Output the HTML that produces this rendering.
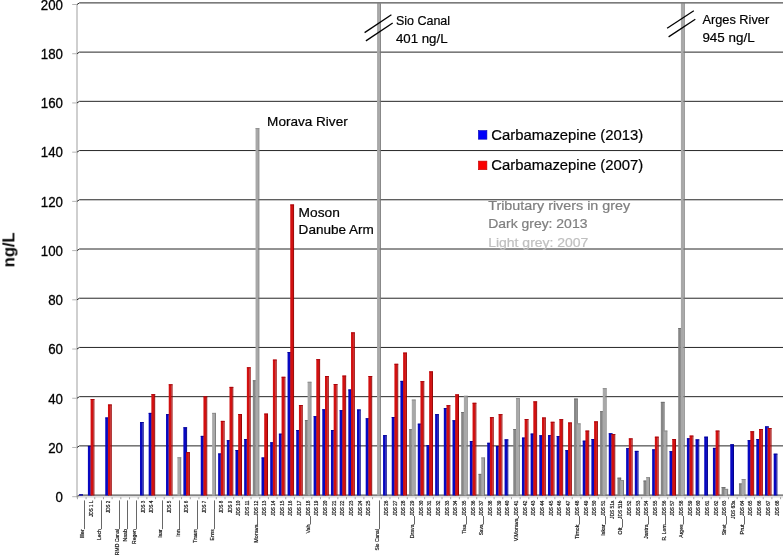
<!DOCTYPE html>
<html><head><meta charset="utf-8"><title>Carbamazepine chart</title>
<style>html,body{margin:0;padding:0;background:#fff;width:783px;height:555px;overflow:hidden;font-family:"Liberation Sans",sans-serif}svg{display:block}</style>
</head><body>
<svg width="783" height="555" viewBox="0 0 783 555" font-family="'Liberation Sans', sans-serif">
<rect width="783" height="555" fill="#fff"/>
<g opacity="0.999">
<rect x="76" y="4.2" width="2" height="493.3" fill="#cfcfcf"/>
<line x1="72.2" y1="496.70" x2="77" y2="496.70" stroke="#b5b5b5" stroke-width="1"/>
<line x1="72.2" y1="447.48" x2="77" y2="447.48" stroke="#b5b5b5" stroke-width="1"/>
<polyline points="77,447.48 79.4,445.88 783,445.88" fill="none" stroke="#262626" stroke-width="1"/>
<line x1="72.2" y1="398.26" x2="77" y2="398.26" stroke="#b5b5b5" stroke-width="1"/>
<polyline points="77,398.26 79.4,396.66 783,396.66" fill="none" stroke="#262626" stroke-width="1"/>
<line x1="72.2" y1="349.04" x2="77" y2="349.04" stroke="#b5b5b5" stroke-width="1"/>
<polyline points="77,349.04 79.4,347.44 783,347.44" fill="none" stroke="#262626" stroke-width="1"/>
<line x1="72.2" y1="299.82" x2="77" y2="299.82" stroke="#b5b5b5" stroke-width="1"/>
<polyline points="77,299.82 79.4,298.22 783,298.22" fill="none" stroke="#262626" stroke-width="1"/>
<line x1="72.2" y1="250.60" x2="77" y2="250.60" stroke="#b5b5b5" stroke-width="1"/>
<polyline points="77,250.60 79.4,249.00 783,249.00" fill="none" stroke="#262626" stroke-width="1"/>
<line x1="72.2" y1="201.38" x2="77" y2="201.38" stroke="#b5b5b5" stroke-width="1"/>
<polyline points="77,201.38 79.4,199.78 783,199.78" fill="none" stroke="#262626" stroke-width="1"/>
<line x1="72.2" y1="152.16" x2="77" y2="152.16" stroke="#b5b5b5" stroke-width="1"/>
<polyline points="77,152.16 79.4,150.56 783,150.56" fill="none" stroke="#262626" stroke-width="1"/>
<line x1="72.2" y1="102.94" x2="77" y2="102.94" stroke="#b5b5b5" stroke-width="1"/>
<polyline points="77,102.94 79.4,101.34 783,101.34" fill="none" stroke="#262626" stroke-width="1"/>
<line x1="72.2" y1="53.72" x2="77" y2="53.72" stroke="#b5b5b5" stroke-width="1"/>
<polyline points="77,53.72 79.4,52.12 783,52.12" fill="none" stroke="#262626" stroke-width="1"/>
<line x1="72.2" y1="4.50" x2="77" y2="4.50" stroke="#b5b5b5" stroke-width="1"/>
<polyline points="77,4.50 79.4,2.90 783,2.90" fill="none" stroke="#262626" stroke-width="1"/>
<polyline points="77,496.70 79.4,495.10 783,495.10" fill="none" stroke="#5a5a5a" stroke-width="1.3"/>
<line x1="77" y1="496.9" x2="783" y2="496.9" stroke="#c4c4c4" stroke-width="0.9"/>
<line x1="77.42" y1="497.2" x2="77.42" y2="499.2" stroke="#8a8a8a" stroke-width="0.8"/>
<line x1="86.10" y1="497.2" x2="86.10" y2="499.2" stroke="#8a8a8a" stroke-width="0.8"/>
<line x1="94.78" y1="497.2" x2="94.78" y2="499.2" stroke="#8a8a8a" stroke-width="0.8"/>
<line x1="103.46" y1="497.2" x2="103.46" y2="499.2" stroke="#8a8a8a" stroke-width="0.8"/>
<line x1="112.14" y1="497.2" x2="112.14" y2="499.2" stroke="#8a8a8a" stroke-width="0.8"/>
<line x1="120.82" y1="497.2" x2="120.82" y2="499.2" stroke="#8a8a8a" stroke-width="0.8"/>
<line x1="129.50" y1="497.2" x2="129.50" y2="499.2" stroke="#8a8a8a" stroke-width="0.8"/>
<line x1="138.19" y1="497.2" x2="138.19" y2="499.2" stroke="#8a8a8a" stroke-width="0.8"/>
<line x1="146.87" y1="497.2" x2="146.87" y2="499.2" stroke="#8a8a8a" stroke-width="0.8"/>
<line x1="155.55" y1="497.2" x2="155.55" y2="499.2" stroke="#8a8a8a" stroke-width="0.8"/>
<line x1="164.23" y1="497.2" x2="164.23" y2="499.2" stroke="#8a8a8a" stroke-width="0.8"/>
<line x1="172.91" y1="497.2" x2="172.91" y2="499.2" stroke="#8a8a8a" stroke-width="0.8"/>
<line x1="181.59" y1="497.2" x2="181.59" y2="499.2" stroke="#8a8a8a" stroke-width="0.8"/>
<line x1="190.27" y1="497.2" x2="190.27" y2="499.2" stroke="#8a8a8a" stroke-width="0.8"/>
<line x1="198.95" y1="497.2" x2="198.95" y2="499.2" stroke="#8a8a8a" stroke-width="0.8"/>
<line x1="207.63" y1="497.2" x2="207.63" y2="499.2" stroke="#8a8a8a" stroke-width="0.8"/>
<line x1="216.31" y1="497.2" x2="216.31" y2="499.2" stroke="#8a8a8a" stroke-width="0.8"/>
<line x1="225.00" y1="497.2" x2="225.00" y2="499.2" stroke="#8a8a8a" stroke-width="0.8"/>
<line x1="233.68" y1="497.2" x2="233.68" y2="499.2" stroke="#8a8a8a" stroke-width="0.8"/>
<line x1="242.36" y1="497.2" x2="242.36" y2="499.2" stroke="#8a8a8a" stroke-width="0.8"/>
<line x1="251.04" y1="497.2" x2="251.04" y2="499.2" stroke="#8a8a8a" stroke-width="0.8"/>
<line x1="259.72" y1="497.2" x2="259.72" y2="499.2" stroke="#8a8a8a" stroke-width="0.8"/>
<line x1="268.40" y1="497.2" x2="268.40" y2="499.2" stroke="#8a8a8a" stroke-width="0.8"/>
<line x1="277.08" y1="497.2" x2="277.08" y2="499.2" stroke="#8a8a8a" stroke-width="0.8"/>
<line x1="285.76" y1="497.2" x2="285.76" y2="499.2" stroke="#8a8a8a" stroke-width="0.8"/>
<line x1="294.44" y1="497.2" x2="294.44" y2="499.2" stroke="#8a8a8a" stroke-width="0.8"/>
<line x1="303.12" y1="497.2" x2="303.12" y2="499.2" stroke="#8a8a8a" stroke-width="0.8"/>
<line x1="311.81" y1="497.2" x2="311.81" y2="499.2" stroke="#8a8a8a" stroke-width="0.8"/>
<line x1="320.49" y1="497.2" x2="320.49" y2="499.2" stroke="#8a8a8a" stroke-width="0.8"/>
<line x1="329.17" y1="497.2" x2="329.17" y2="499.2" stroke="#8a8a8a" stroke-width="0.8"/>
<line x1="337.85" y1="497.2" x2="337.85" y2="499.2" stroke="#8a8a8a" stroke-width="0.8"/>
<line x1="346.53" y1="497.2" x2="346.53" y2="499.2" stroke="#8a8a8a" stroke-width="0.8"/>
<line x1="355.21" y1="497.2" x2="355.21" y2="499.2" stroke="#8a8a8a" stroke-width="0.8"/>
<line x1="363.89" y1="497.2" x2="363.89" y2="499.2" stroke="#8a8a8a" stroke-width="0.8"/>
<line x1="372.57" y1="497.2" x2="372.57" y2="499.2" stroke="#8a8a8a" stroke-width="0.8"/>
<line x1="381.25" y1="497.2" x2="381.25" y2="499.2" stroke="#8a8a8a" stroke-width="0.8"/>
<line x1="389.93" y1="497.2" x2="389.93" y2="499.2" stroke="#8a8a8a" stroke-width="0.8"/>
<line x1="398.62" y1="497.2" x2="398.62" y2="499.2" stroke="#8a8a8a" stroke-width="0.8"/>
<line x1="407.30" y1="497.2" x2="407.30" y2="499.2" stroke="#8a8a8a" stroke-width="0.8"/>
<line x1="415.98" y1="497.2" x2="415.98" y2="499.2" stroke="#8a8a8a" stroke-width="0.8"/>
<line x1="424.66" y1="497.2" x2="424.66" y2="499.2" stroke="#8a8a8a" stroke-width="0.8"/>
<line x1="433.34" y1="497.2" x2="433.34" y2="499.2" stroke="#8a8a8a" stroke-width="0.8"/>
<line x1="442.02" y1="497.2" x2="442.02" y2="499.2" stroke="#8a8a8a" stroke-width="0.8"/>
<line x1="450.70" y1="497.2" x2="450.70" y2="499.2" stroke="#8a8a8a" stroke-width="0.8"/>
<line x1="459.38" y1="497.2" x2="459.38" y2="499.2" stroke="#8a8a8a" stroke-width="0.8"/>
<line x1="468.06" y1="497.2" x2="468.06" y2="499.2" stroke="#8a8a8a" stroke-width="0.8"/>
<line x1="476.74" y1="497.2" x2="476.74" y2="499.2" stroke="#8a8a8a" stroke-width="0.8"/>
<line x1="485.43" y1="497.2" x2="485.43" y2="499.2" stroke="#8a8a8a" stroke-width="0.8"/>
<line x1="494.11" y1="497.2" x2="494.11" y2="499.2" stroke="#8a8a8a" stroke-width="0.8"/>
<line x1="502.79" y1="497.2" x2="502.79" y2="499.2" stroke="#8a8a8a" stroke-width="0.8"/>
<line x1="511.47" y1="497.2" x2="511.47" y2="499.2" stroke="#8a8a8a" stroke-width="0.8"/>
<line x1="520.15" y1="497.2" x2="520.15" y2="499.2" stroke="#8a8a8a" stroke-width="0.8"/>
<line x1="528.83" y1="497.2" x2="528.83" y2="499.2" stroke="#8a8a8a" stroke-width="0.8"/>
<line x1="537.51" y1="497.2" x2="537.51" y2="499.2" stroke="#8a8a8a" stroke-width="0.8"/>
<line x1="546.19" y1="497.2" x2="546.19" y2="499.2" stroke="#8a8a8a" stroke-width="0.8"/>
<line x1="554.87" y1="497.2" x2="554.87" y2="499.2" stroke="#8a8a8a" stroke-width="0.8"/>
<line x1="563.55" y1="497.2" x2="563.55" y2="499.2" stroke="#8a8a8a" stroke-width="0.8"/>
<line x1="572.24" y1="497.2" x2="572.24" y2="499.2" stroke="#8a8a8a" stroke-width="0.8"/>
<line x1="580.92" y1="497.2" x2="580.92" y2="499.2" stroke="#8a8a8a" stroke-width="0.8"/>
<line x1="589.60" y1="497.2" x2="589.60" y2="499.2" stroke="#8a8a8a" stroke-width="0.8"/>
<line x1="598.28" y1="497.2" x2="598.28" y2="499.2" stroke="#8a8a8a" stroke-width="0.8"/>
<line x1="606.96" y1="497.2" x2="606.96" y2="499.2" stroke="#8a8a8a" stroke-width="0.8"/>
<line x1="615.64" y1="497.2" x2="615.64" y2="499.2" stroke="#8a8a8a" stroke-width="0.8"/>
<line x1="624.32" y1="497.2" x2="624.32" y2="499.2" stroke="#8a8a8a" stroke-width="0.8"/>
<line x1="633.00" y1="497.2" x2="633.00" y2="499.2" stroke="#8a8a8a" stroke-width="0.8"/>
<line x1="641.68" y1="497.2" x2="641.68" y2="499.2" stroke="#8a8a8a" stroke-width="0.8"/>
<line x1="650.36" y1="497.2" x2="650.36" y2="499.2" stroke="#8a8a8a" stroke-width="0.8"/>
<line x1="659.05" y1="497.2" x2="659.05" y2="499.2" stroke="#8a8a8a" stroke-width="0.8"/>
<line x1="667.73" y1="497.2" x2="667.73" y2="499.2" stroke="#8a8a8a" stroke-width="0.8"/>
<line x1="676.41" y1="497.2" x2="676.41" y2="499.2" stroke="#8a8a8a" stroke-width="0.8"/>
<line x1="685.09" y1="497.2" x2="685.09" y2="499.2" stroke="#8a8a8a" stroke-width="0.8"/>
<line x1="693.77" y1="497.2" x2="693.77" y2="499.2" stroke="#8a8a8a" stroke-width="0.8"/>
<line x1="702.45" y1="497.2" x2="702.45" y2="499.2" stroke="#8a8a8a" stroke-width="0.8"/>
<line x1="711.13" y1="497.2" x2="711.13" y2="499.2" stroke="#8a8a8a" stroke-width="0.8"/>
<line x1="719.81" y1="497.2" x2="719.81" y2="499.2" stroke="#8a8a8a" stroke-width="0.8"/>
<line x1="728.49" y1="497.2" x2="728.49" y2="499.2" stroke="#8a8a8a" stroke-width="0.8"/>
<line x1="737.17" y1="497.2" x2="737.17" y2="499.2" stroke="#8a8a8a" stroke-width="0.8"/>
<line x1="745.86" y1="497.2" x2="745.86" y2="499.2" stroke="#8a8a8a" stroke-width="0.8"/>
<line x1="754.54" y1="497.2" x2="754.54" y2="499.2" stroke="#8a8a8a" stroke-width="0.8"/>
<line x1="763.22" y1="497.2" x2="763.22" y2="499.2" stroke="#8a8a8a" stroke-width="0.8"/>
<line x1="771.90" y1="497.2" x2="771.90" y2="499.2" stroke="#8a8a8a" stroke-width="0.8"/>
<line x1="780.58" y1="497.2" x2="780.58" y2="499.2" stroke="#8a8a8a" stroke-width="0.8"/>
<rect x="79.22" y="494.40" width="2.70" height="1.10" fill="#0808c0"/>
<rect x="81.92" y="494.40" width="1.00" height="1.10" fill="#00008c"/>
<rect x="79.22" y="494.40" width="3.70" height="0.9" fill="#000098"/>
<rect x="87.90" y="445.90" width="2.70" height="49.60" fill="#0808c0"/>
<rect x="90.60" y="445.90" width="1.00" height="49.60" fill="#00008c"/>
<rect x="87.90" y="445.90" width="3.70" height="0.9" fill="#000098"/>
<rect x="90.60" y="399.10" width="2.80" height="96.40" fill="#d21010"/>
<rect x="93.40" y="399.10" width="1.00" height="96.40" fill="#980000"/>
<rect x="90.60" y="399.10" width="3.80" height="0.9" fill="#a80008"/>
<rect x="105.26" y="417.50" width="2.70" height="78.00" fill="#0808c0"/>
<rect x="107.96" y="417.50" width="1.00" height="78.00" fill="#00008c"/>
<rect x="105.26" y="417.50" width="3.70" height="0.9" fill="#000098"/>
<rect x="107.96" y="404.50" width="2.80" height="91.00" fill="#d21010"/>
<rect x="110.76" y="404.50" width="1.00" height="91.00" fill="#980000"/>
<rect x="107.96" y="404.50" width="3.80" height="0.9" fill="#a80008"/>
<rect x="139.99" y="422.10" width="2.70" height="73.40" fill="#0808c0"/>
<rect x="142.69" y="422.10" width="1.00" height="73.40" fill="#00008c"/>
<rect x="139.99" y="422.10" width="3.70" height="0.9" fill="#000098"/>
<rect x="148.67" y="412.90" width="2.70" height="82.60" fill="#0808c0"/>
<rect x="151.37" y="412.90" width="1.00" height="82.60" fill="#00008c"/>
<rect x="148.67" y="412.90" width="3.70" height="0.9" fill="#000098"/>
<rect x="151.37" y="394.20" width="2.80" height="101.30" fill="#d21010"/>
<rect x="154.17" y="394.20" width="1.00" height="101.30" fill="#980000"/>
<rect x="151.37" y="394.20" width="3.80" height="0.9" fill="#a80008"/>
<rect x="166.03" y="414.20" width="2.70" height="81.30" fill="#0808c0"/>
<rect x="168.73" y="414.20" width="1.00" height="81.30" fill="#00008c"/>
<rect x="166.03" y="414.20" width="3.70" height="0.9" fill="#000098"/>
<rect x="168.73" y="384.30" width="2.80" height="111.20" fill="#d21010"/>
<rect x="171.53" y="384.30" width="1.00" height="111.20" fill="#980000"/>
<rect x="168.73" y="384.30" width="3.80" height="0.9" fill="#a80008"/>
<rect x="177.41" y="457.30" width="2.80" height="38.20" fill="#a8a8a8"/>
<rect x="180.21" y="457.30" width="1.00" height="38.20" fill="#777777"/>
<rect x="177.41" y="457.30" width="3.80" height="0.9" fill="#8a8a8a"/>
<rect x="183.39" y="427.30" width="2.70" height="68.20" fill="#0808c0"/>
<rect x="186.09" y="427.30" width="1.00" height="68.20" fill="#00008c"/>
<rect x="183.39" y="427.30" width="3.70" height="0.9" fill="#000098"/>
<rect x="186.09" y="452.20" width="2.80" height="43.30" fill="#d21010"/>
<rect x="188.89" y="452.20" width="1.00" height="43.30" fill="#980000"/>
<rect x="186.09" y="452.20" width="3.80" height="0.9" fill="#a80008"/>
<rect x="200.75" y="435.90" width="2.70" height="59.60" fill="#0808c0"/>
<rect x="203.45" y="435.90" width="1.00" height="59.60" fill="#00008c"/>
<rect x="200.75" y="435.90" width="3.70" height="0.9" fill="#000098"/>
<rect x="203.45" y="396.40" width="2.80" height="99.10" fill="#d21010"/>
<rect x="206.25" y="396.40" width="1.00" height="99.10" fill="#980000"/>
<rect x="203.45" y="396.40" width="3.80" height="0.9" fill="#a80008"/>
<rect x="212.13" y="412.90" width="2.80" height="82.60" fill="#a8a8a8"/>
<rect x="214.93" y="412.90" width="1.00" height="82.60" fill="#777777"/>
<rect x="212.13" y="412.90" width="3.80" height="0.9" fill="#8a8a8a"/>
<rect x="218.12" y="453.50" width="2.70" height="42.00" fill="#0808c0"/>
<rect x="220.81" y="453.50" width="1.00" height="42.00" fill="#00008c"/>
<rect x="218.12" y="453.50" width="3.70" height="0.9" fill="#000098"/>
<rect x="220.81" y="420.90" width="2.80" height="74.60" fill="#d21010"/>
<rect x="223.62" y="420.90" width="1.00" height="74.60" fill="#980000"/>
<rect x="220.81" y="420.90" width="3.80" height="0.9" fill="#a80008"/>
<rect x="226.80" y="440.20" width="2.70" height="55.30" fill="#0808c0"/>
<rect x="229.50" y="440.20" width="1.00" height="55.30" fill="#00008c"/>
<rect x="226.80" y="440.20" width="3.70" height="0.9" fill="#000098"/>
<rect x="229.50" y="386.90" width="2.80" height="108.60" fill="#d21010"/>
<rect x="232.30" y="386.90" width="1.00" height="108.60" fill="#980000"/>
<rect x="229.50" y="386.90" width="3.80" height="0.9" fill="#a80008"/>
<rect x="235.48" y="450.00" width="2.70" height="45.50" fill="#0808c0"/>
<rect x="238.18" y="450.00" width="1.00" height="45.50" fill="#00008c"/>
<rect x="235.48" y="450.00" width="3.70" height="0.9" fill="#000098"/>
<rect x="238.18" y="414.00" width="2.80" height="81.50" fill="#d21010"/>
<rect x="240.98" y="414.00" width="1.00" height="81.50" fill="#980000"/>
<rect x="238.18" y="414.00" width="3.80" height="0.9" fill="#a80008"/>
<rect x="244.16" y="439.00" width="2.70" height="56.50" fill="#0808c0"/>
<rect x="246.86" y="439.00" width="1.00" height="56.50" fill="#00008c"/>
<rect x="244.16" y="439.00" width="3.70" height="0.9" fill="#000098"/>
<rect x="246.86" y="367.30" width="2.80" height="128.20" fill="#d21010"/>
<rect x="249.66" y="367.30" width="1.00" height="128.20" fill="#980000"/>
<rect x="246.86" y="367.30" width="3.80" height="0.9" fill="#a80008"/>
<rect x="252.84" y="380.30" width="2.70" height="115.20" fill="#868686"/>
<rect x="255.54" y="380.30" width="1.00" height="115.20" fill="#616161"/>
<rect x="252.84" y="380.30" width="3.70" height="0.9" fill="#6e6e6e"/>
<rect x="255.54" y="128.20" width="2.80" height="367.30" fill="#a8a8a8"/>
<rect x="258.34" y="128.20" width="1.00" height="367.30" fill="#777777"/>
<rect x="255.54" y="128.20" width="3.80" height="0.9" fill="#8a8a8a"/>
<rect x="261.52" y="457.50" width="2.70" height="38.00" fill="#0808c0"/>
<rect x="264.22" y="457.50" width="1.00" height="38.00" fill="#00008c"/>
<rect x="261.52" y="457.50" width="3.70" height="0.9" fill="#000098"/>
<rect x="264.22" y="413.60" width="2.80" height="81.90" fill="#d21010"/>
<rect x="267.02" y="413.60" width="1.00" height="81.90" fill="#980000"/>
<rect x="264.22" y="413.60" width="3.80" height="0.9" fill="#a80008"/>
<rect x="270.20" y="442.30" width="2.70" height="53.20" fill="#0808c0"/>
<rect x="272.90" y="442.30" width="1.00" height="53.20" fill="#00008c"/>
<rect x="270.20" y="442.30" width="3.70" height="0.9" fill="#000098"/>
<rect x="272.90" y="359.60" width="2.80" height="135.90" fill="#d21010"/>
<rect x="275.70" y="359.60" width="1.00" height="135.90" fill="#980000"/>
<rect x="272.90" y="359.60" width="3.80" height="0.9" fill="#a80008"/>
<rect x="278.88" y="433.70" width="2.70" height="61.80" fill="#0808c0"/>
<rect x="281.58" y="433.70" width="1.00" height="61.80" fill="#00008c"/>
<rect x="278.88" y="433.70" width="3.70" height="0.9" fill="#000098"/>
<rect x="281.58" y="376.80" width="2.80" height="118.70" fill="#d21010"/>
<rect x="284.38" y="376.80" width="1.00" height="118.70" fill="#980000"/>
<rect x="281.58" y="376.80" width="3.80" height="0.9" fill="#a80008"/>
<rect x="287.56" y="352.00" width="2.70" height="143.50" fill="#0808c0"/>
<rect x="290.26" y="352.00" width="1.00" height="143.50" fill="#00008c"/>
<rect x="287.56" y="352.00" width="3.70" height="0.9" fill="#000098"/>
<rect x="290.26" y="204.50" width="2.80" height="291.00" fill="#d21010"/>
<rect x="293.06" y="204.50" width="1.00" height="291.00" fill="#980000"/>
<rect x="290.26" y="204.50" width="3.80" height="0.9" fill="#a80008"/>
<rect x="296.24" y="430.00" width="2.70" height="65.50" fill="#0808c0"/>
<rect x="298.94" y="430.00" width="1.00" height="65.50" fill="#00008c"/>
<rect x="296.24" y="430.00" width="3.70" height="0.9" fill="#000098"/>
<rect x="298.94" y="405.10" width="2.80" height="90.40" fill="#d21010"/>
<rect x="301.74" y="405.10" width="1.00" height="90.40" fill="#980000"/>
<rect x="298.94" y="405.10" width="3.80" height="0.9" fill="#a80008"/>
<rect x="304.93" y="420.00" width="2.70" height="75.50" fill="#868686"/>
<rect x="307.62" y="420.00" width="1.00" height="75.50" fill="#616161"/>
<rect x="304.93" y="420.00" width="3.70" height="0.9" fill="#6e6e6e"/>
<rect x="307.62" y="381.80" width="2.80" height="113.70" fill="#a8a8a8"/>
<rect x="310.43" y="381.80" width="1.00" height="113.70" fill="#777777"/>
<rect x="307.62" y="381.80" width="3.80" height="0.9" fill="#8a8a8a"/>
<rect x="313.61" y="416.20" width="2.70" height="79.30" fill="#0808c0"/>
<rect x="316.31" y="416.20" width="1.00" height="79.30" fill="#00008c"/>
<rect x="313.61" y="416.20" width="3.70" height="0.9" fill="#000098"/>
<rect x="316.31" y="359.20" width="2.80" height="136.30" fill="#d21010"/>
<rect x="319.11" y="359.20" width="1.00" height="136.30" fill="#980000"/>
<rect x="316.31" y="359.20" width="3.80" height="0.9" fill="#a80008"/>
<rect x="322.29" y="409.30" width="2.70" height="86.20" fill="#0808c0"/>
<rect x="324.99" y="409.30" width="1.00" height="86.20" fill="#00008c"/>
<rect x="322.29" y="409.30" width="3.70" height="0.9" fill="#000098"/>
<rect x="324.99" y="376.00" width="2.80" height="119.50" fill="#d21010"/>
<rect x="327.79" y="376.00" width="1.00" height="119.50" fill="#980000"/>
<rect x="324.99" y="376.00" width="3.80" height="0.9" fill="#a80008"/>
<rect x="330.97" y="430.00" width="2.70" height="65.50" fill="#0808c0"/>
<rect x="333.67" y="430.00" width="1.00" height="65.50" fill="#00008c"/>
<rect x="330.97" y="430.00" width="3.70" height="0.9" fill="#000098"/>
<rect x="333.67" y="384.10" width="2.80" height="111.40" fill="#d21010"/>
<rect x="336.47" y="384.10" width="1.00" height="111.40" fill="#980000"/>
<rect x="333.67" y="384.10" width="3.80" height="0.9" fill="#a80008"/>
<rect x="339.65" y="410.20" width="2.70" height="85.30" fill="#0808c0"/>
<rect x="342.35" y="410.20" width="1.00" height="85.30" fill="#00008c"/>
<rect x="339.65" y="410.20" width="3.70" height="0.9" fill="#000098"/>
<rect x="342.35" y="375.60" width="2.80" height="119.90" fill="#d21010"/>
<rect x="345.15" y="375.60" width="1.00" height="119.90" fill="#980000"/>
<rect x="342.35" y="375.60" width="3.80" height="0.9" fill="#a80008"/>
<rect x="348.33" y="389.50" width="2.70" height="106.00" fill="#0808c0"/>
<rect x="351.03" y="389.50" width="1.00" height="106.00" fill="#00008c"/>
<rect x="348.33" y="389.50" width="3.70" height="0.9" fill="#000098"/>
<rect x="351.03" y="332.40" width="2.80" height="163.10" fill="#d21010"/>
<rect x="353.83" y="332.40" width="1.00" height="163.10" fill="#980000"/>
<rect x="351.03" y="332.40" width="3.80" height="0.9" fill="#a80008"/>
<rect x="357.01" y="409.50" width="2.70" height="86.00" fill="#0808c0"/>
<rect x="359.71" y="409.50" width="1.00" height="86.00" fill="#00008c"/>
<rect x="357.01" y="409.50" width="3.70" height="0.9" fill="#000098"/>
<rect x="365.69" y="418.30" width="2.70" height="77.20" fill="#0808c0"/>
<rect x="368.39" y="418.30" width="1.00" height="77.20" fill="#00008c"/>
<rect x="365.69" y="418.30" width="3.70" height="0.9" fill="#000098"/>
<rect x="368.39" y="376.00" width="2.80" height="119.50" fill="#d21010"/>
<rect x="371.19" y="376.00" width="1.00" height="119.50" fill="#980000"/>
<rect x="368.39" y="376.00" width="3.80" height="0.9" fill="#a80008"/>
<rect x="377.07" y="3.00" width="2.80" height="492.50" fill="#a8a8a8"/>
<rect x="379.87" y="3.00" width="1.00" height="492.50" fill="#777777"/>
<rect x="377.07" y="3.00" width="3.80" height="0.9" fill="#8a8a8a"/>
<rect x="383.05" y="435.20" width="2.70" height="60.30" fill="#0808c0"/>
<rect x="385.75" y="435.20" width="1.00" height="60.30" fill="#00008c"/>
<rect x="383.05" y="435.20" width="3.70" height="0.9" fill="#000098"/>
<rect x="391.73" y="417.00" width="2.70" height="78.50" fill="#0808c0"/>
<rect x="394.43" y="417.00" width="1.00" height="78.50" fill="#00008c"/>
<rect x="391.73" y="417.00" width="3.70" height="0.9" fill="#000098"/>
<rect x="394.43" y="363.80" width="2.80" height="131.70" fill="#d21010"/>
<rect x="397.23" y="363.80" width="1.00" height="131.70" fill="#980000"/>
<rect x="394.43" y="363.80" width="3.80" height="0.9" fill="#a80008"/>
<rect x="400.42" y="380.90" width="2.70" height="114.60" fill="#0808c0"/>
<rect x="403.12" y="380.90" width="1.00" height="114.60" fill="#00008c"/>
<rect x="400.42" y="380.90" width="3.70" height="0.9" fill="#000098"/>
<rect x="403.12" y="352.60" width="2.80" height="142.90" fill="#d21010"/>
<rect x="405.92" y="352.60" width="1.00" height="142.90" fill="#980000"/>
<rect x="403.12" y="352.60" width="3.80" height="0.9" fill="#a80008"/>
<rect x="409.10" y="429.20" width="2.70" height="66.30" fill="#868686"/>
<rect x="411.80" y="429.20" width="1.00" height="66.30" fill="#616161"/>
<rect x="409.10" y="429.20" width="3.70" height="0.9" fill="#6e6e6e"/>
<rect x="411.80" y="399.60" width="2.80" height="95.90" fill="#a8a8a8"/>
<rect x="414.60" y="399.60" width="1.00" height="95.90" fill="#777777"/>
<rect x="411.80" y="399.60" width="3.80" height="0.9" fill="#8a8a8a"/>
<rect x="417.78" y="423.70" width="2.70" height="71.80" fill="#0808c0"/>
<rect x="420.48" y="423.70" width="1.00" height="71.80" fill="#00008c"/>
<rect x="417.78" y="423.70" width="3.70" height="0.9" fill="#000098"/>
<rect x="420.48" y="381.20" width="2.80" height="114.30" fill="#d21010"/>
<rect x="423.28" y="381.20" width="1.00" height="114.30" fill="#980000"/>
<rect x="420.48" y="381.20" width="3.80" height="0.9" fill="#a80008"/>
<rect x="426.46" y="445.20" width="2.70" height="50.30" fill="#0808c0"/>
<rect x="429.16" y="445.20" width="1.00" height="50.30" fill="#00008c"/>
<rect x="426.46" y="445.20" width="3.70" height="0.9" fill="#000098"/>
<rect x="429.16" y="371.40" width="2.80" height="124.10" fill="#d21010"/>
<rect x="431.96" y="371.40" width="1.00" height="124.10" fill="#980000"/>
<rect x="429.16" y="371.40" width="3.80" height="0.9" fill="#a80008"/>
<rect x="435.14" y="414.20" width="2.70" height="81.30" fill="#0808c0"/>
<rect x="437.84" y="414.20" width="1.00" height="81.30" fill="#00008c"/>
<rect x="435.14" y="414.20" width="3.70" height="0.9" fill="#000098"/>
<rect x="443.82" y="408.10" width="2.70" height="87.40" fill="#0808c0"/>
<rect x="446.52" y="408.10" width="1.00" height="87.40" fill="#00008c"/>
<rect x="443.82" y="408.10" width="3.70" height="0.9" fill="#000098"/>
<rect x="446.52" y="405.20" width="2.80" height="90.30" fill="#d21010"/>
<rect x="449.32" y="405.20" width="1.00" height="90.30" fill="#980000"/>
<rect x="446.52" y="405.20" width="3.80" height="0.9" fill="#a80008"/>
<rect x="452.50" y="420.30" width="2.70" height="75.20" fill="#0808c0"/>
<rect x="455.20" y="420.30" width="1.00" height="75.20" fill="#00008c"/>
<rect x="452.50" y="420.30" width="3.70" height="0.9" fill="#000098"/>
<rect x="455.20" y="394.40" width="2.80" height="101.10" fill="#d21010"/>
<rect x="458.00" y="394.40" width="1.00" height="101.10" fill="#980000"/>
<rect x="455.20" y="394.40" width="3.80" height="0.9" fill="#a80008"/>
<rect x="461.18" y="412.00" width="2.70" height="83.50" fill="#868686"/>
<rect x="463.88" y="412.00" width="1.00" height="83.50" fill="#616161"/>
<rect x="461.18" y="412.00" width="3.70" height="0.9" fill="#6e6e6e"/>
<rect x="463.88" y="395.80" width="2.80" height="99.70" fill="#a8a8a8"/>
<rect x="466.68" y="395.80" width="1.00" height="99.70" fill="#777777"/>
<rect x="463.88" y="395.80" width="3.80" height="0.9" fill="#8a8a8a"/>
<rect x="469.86" y="441.00" width="2.70" height="54.50" fill="#0808c0"/>
<rect x="472.56" y="441.00" width="1.00" height="54.50" fill="#00008c"/>
<rect x="469.86" y="441.00" width="3.70" height="0.9" fill="#000098"/>
<rect x="472.56" y="402.80" width="2.80" height="92.70" fill="#d21010"/>
<rect x="475.36" y="402.80" width="1.00" height="92.70" fill="#980000"/>
<rect x="472.56" y="402.80" width="3.80" height="0.9" fill="#a80008"/>
<rect x="478.54" y="473.90" width="2.70" height="21.60" fill="#868686"/>
<rect x="481.24" y="473.90" width="1.00" height="21.60" fill="#616161"/>
<rect x="478.54" y="473.90" width="3.70" height="0.9" fill="#6e6e6e"/>
<rect x="481.24" y="457.50" width="2.80" height="38.00" fill="#a8a8a8"/>
<rect x="484.04" y="457.50" width="1.00" height="38.00" fill="#777777"/>
<rect x="481.24" y="457.50" width="3.80" height="0.9" fill="#8a8a8a"/>
<rect x="487.23" y="442.80" width="2.70" height="52.70" fill="#0808c0"/>
<rect x="489.93" y="442.80" width="1.00" height="52.70" fill="#00008c"/>
<rect x="487.23" y="442.80" width="3.70" height="0.9" fill="#000098"/>
<rect x="489.93" y="417.20" width="2.80" height="78.30" fill="#d21010"/>
<rect x="492.73" y="417.20" width="1.00" height="78.30" fill="#980000"/>
<rect x="489.93" y="417.20" width="3.80" height="0.9" fill="#a80008"/>
<rect x="495.91" y="446.00" width="2.70" height="49.50" fill="#0808c0"/>
<rect x="498.61" y="446.00" width="1.00" height="49.50" fill="#00008c"/>
<rect x="495.91" y="446.00" width="3.70" height="0.9" fill="#000098"/>
<rect x="498.61" y="414.20" width="2.80" height="81.30" fill="#d21010"/>
<rect x="501.41" y="414.20" width="1.00" height="81.30" fill="#980000"/>
<rect x="498.61" y="414.20" width="3.80" height="0.9" fill="#a80008"/>
<rect x="504.59" y="439.40" width="2.70" height="56.10" fill="#0808c0"/>
<rect x="507.29" y="439.40" width="1.00" height="56.10" fill="#00008c"/>
<rect x="504.59" y="439.40" width="3.70" height="0.9" fill="#000098"/>
<rect x="513.27" y="429.00" width="2.70" height="66.50" fill="#868686"/>
<rect x="515.97" y="429.00" width="1.00" height="66.50" fill="#616161"/>
<rect x="513.27" y="429.00" width="3.70" height="0.9" fill="#6e6e6e"/>
<rect x="515.97" y="398.20" width="2.80" height="97.30" fill="#a8a8a8"/>
<rect x="518.77" y="398.20" width="1.00" height="97.30" fill="#777777"/>
<rect x="515.97" y="398.20" width="3.80" height="0.9" fill="#8a8a8a"/>
<rect x="521.95" y="437.60" width="2.70" height="57.90" fill="#0808c0"/>
<rect x="524.65" y="437.60" width="1.00" height="57.90" fill="#00008c"/>
<rect x="521.95" y="437.60" width="3.70" height="0.9" fill="#000098"/>
<rect x="524.65" y="419.10" width="2.80" height="76.40" fill="#d21010"/>
<rect x="527.45" y="419.10" width="1.00" height="76.40" fill="#980000"/>
<rect x="524.65" y="419.10" width="3.80" height="0.9" fill="#a80008"/>
<rect x="530.63" y="433.60" width="2.70" height="61.90" fill="#0808c0"/>
<rect x="533.33" y="433.60" width="1.00" height="61.90" fill="#00008c"/>
<rect x="530.63" y="433.60" width="3.70" height="0.9" fill="#000098"/>
<rect x="533.33" y="401.40" width="2.80" height="94.10" fill="#d21010"/>
<rect x="536.13" y="401.40" width="1.00" height="94.10" fill="#980000"/>
<rect x="533.33" y="401.40" width="3.80" height="0.9" fill="#a80008"/>
<rect x="539.31" y="435.30" width="2.70" height="60.20" fill="#0808c0"/>
<rect x="542.01" y="435.30" width="1.00" height="60.20" fill="#00008c"/>
<rect x="539.31" y="435.30" width="3.70" height="0.9" fill="#000098"/>
<rect x="542.01" y="417.50" width="2.80" height="78.00" fill="#d21010"/>
<rect x="544.81" y="417.50" width="1.00" height="78.00" fill="#980000"/>
<rect x="542.01" y="417.50" width="3.80" height="0.9" fill="#a80008"/>
<rect x="547.99" y="435.20" width="2.70" height="60.30" fill="#0808c0"/>
<rect x="550.69" y="435.20" width="1.00" height="60.30" fill="#00008c"/>
<rect x="547.99" y="435.20" width="3.70" height="0.9" fill="#000098"/>
<rect x="550.69" y="421.80" width="2.80" height="73.70" fill="#d21010"/>
<rect x="553.49" y="421.80" width="1.00" height="73.70" fill="#980000"/>
<rect x="550.69" y="421.80" width="3.80" height="0.9" fill="#a80008"/>
<rect x="556.67" y="436.10" width="2.70" height="59.40" fill="#0808c0"/>
<rect x="559.37" y="436.10" width="1.00" height="59.40" fill="#00008c"/>
<rect x="556.67" y="436.10" width="3.70" height="0.9" fill="#000098"/>
<rect x="559.37" y="419.20" width="2.80" height="76.30" fill="#d21010"/>
<rect x="562.17" y="419.20" width="1.00" height="76.30" fill="#980000"/>
<rect x="559.37" y="419.20" width="3.80" height="0.9" fill="#a80008"/>
<rect x="565.35" y="450.20" width="2.70" height="45.30" fill="#0808c0"/>
<rect x="568.05" y="450.20" width="1.00" height="45.30" fill="#00008c"/>
<rect x="565.35" y="450.20" width="3.70" height="0.9" fill="#000098"/>
<rect x="568.05" y="422.50" width="2.80" height="73.00" fill="#d21010"/>
<rect x="570.85" y="422.50" width="1.00" height="73.00" fill="#980000"/>
<rect x="568.05" y="422.50" width="3.80" height="0.9" fill="#a80008"/>
<rect x="574.04" y="398.60" width="2.70" height="96.90" fill="#868686"/>
<rect x="576.74" y="398.60" width="1.00" height="96.90" fill="#616161"/>
<rect x="574.04" y="398.60" width="3.70" height="0.9" fill="#6e6e6e"/>
<rect x="576.74" y="423.40" width="2.80" height="72.10" fill="#a8a8a8"/>
<rect x="579.54" y="423.40" width="1.00" height="72.10" fill="#777777"/>
<rect x="576.74" y="423.40" width="3.80" height="0.9" fill="#8a8a8a"/>
<rect x="582.72" y="440.70" width="2.70" height="54.80" fill="#0808c0"/>
<rect x="585.42" y="440.70" width="1.00" height="54.80" fill="#00008c"/>
<rect x="582.72" y="440.70" width="3.70" height="0.9" fill="#000098"/>
<rect x="585.42" y="430.60" width="2.80" height="64.90" fill="#d21010"/>
<rect x="588.22" y="430.60" width="1.00" height="64.90" fill="#980000"/>
<rect x="585.42" y="430.60" width="3.80" height="0.9" fill="#a80008"/>
<rect x="591.40" y="439.10" width="2.70" height="56.40" fill="#0808c0"/>
<rect x="594.10" y="439.10" width="1.00" height="56.40" fill="#00008c"/>
<rect x="591.40" y="439.10" width="3.70" height="0.9" fill="#000098"/>
<rect x="594.10" y="421.40" width="2.80" height="74.10" fill="#d21010"/>
<rect x="596.90" y="421.40" width="1.00" height="74.10" fill="#980000"/>
<rect x="594.10" y="421.40" width="3.80" height="0.9" fill="#a80008"/>
<rect x="600.08" y="411.20" width="2.70" height="84.30" fill="#868686"/>
<rect x="602.78" y="411.20" width="1.00" height="84.30" fill="#616161"/>
<rect x="600.08" y="411.20" width="3.70" height="0.9" fill="#6e6e6e"/>
<rect x="602.78" y="388.20" width="2.80" height="107.30" fill="#a8a8a8"/>
<rect x="605.58" y="388.20" width="1.00" height="107.30" fill="#777777"/>
<rect x="602.78" y="388.20" width="3.80" height="0.9" fill="#8a8a8a"/>
<rect x="608.76" y="433.30" width="2.70" height="62.20" fill="#0808c0"/>
<rect x="611.46" y="433.30" width="1.00" height="62.20" fill="#00008c"/>
<rect x="608.76" y="433.30" width="3.70" height="0.9" fill="#000098"/>
<rect x="611.46" y="434.10" width="2.80" height="61.40" fill="#d21010"/>
<rect x="614.26" y="434.10" width="1.00" height="61.40" fill="#980000"/>
<rect x="611.46" y="434.10" width="3.80" height="0.9" fill="#a80008"/>
<rect x="617.44" y="477.70" width="2.70" height="17.80" fill="#868686"/>
<rect x="620.14" y="477.70" width="1.00" height="17.80" fill="#616161"/>
<rect x="617.44" y="477.70" width="3.70" height="0.9" fill="#6e6e6e"/>
<rect x="620.14" y="480.00" width="2.80" height="15.50" fill="#a8a8a8"/>
<rect x="622.94" y="480.00" width="1.00" height="15.50" fill="#777777"/>
<rect x="620.14" y="480.00" width="3.80" height="0.9" fill="#8a8a8a"/>
<rect x="626.12" y="448.20" width="2.70" height="47.30" fill="#0808c0"/>
<rect x="628.82" y="448.20" width="1.00" height="47.30" fill="#00008c"/>
<rect x="626.12" y="448.20" width="3.70" height="0.9" fill="#000098"/>
<rect x="628.82" y="438.40" width="2.80" height="57.10" fill="#d21010"/>
<rect x="631.62" y="438.40" width="1.00" height="57.10" fill="#980000"/>
<rect x="628.82" y="438.40" width="3.80" height="0.9" fill="#a80008"/>
<rect x="634.80" y="450.90" width="2.70" height="44.60" fill="#0808c0"/>
<rect x="637.50" y="450.90" width="1.00" height="44.60" fill="#00008c"/>
<rect x="634.80" y="450.90" width="3.70" height="0.9" fill="#000098"/>
<rect x="643.48" y="480.60" width="2.70" height="14.90" fill="#868686"/>
<rect x="646.18" y="480.60" width="1.00" height="14.90" fill="#616161"/>
<rect x="643.48" y="480.60" width="3.70" height="0.9" fill="#6e6e6e"/>
<rect x="646.18" y="477.20" width="2.80" height="18.30" fill="#a8a8a8"/>
<rect x="648.98" y="477.20" width="1.00" height="18.30" fill="#777777"/>
<rect x="646.18" y="477.20" width="3.80" height="0.9" fill="#8a8a8a"/>
<rect x="652.16" y="449.40" width="2.70" height="46.10" fill="#0808c0"/>
<rect x="654.86" y="449.40" width="1.00" height="46.10" fill="#00008c"/>
<rect x="652.16" y="449.40" width="3.70" height="0.9" fill="#000098"/>
<rect x="654.86" y="436.70" width="2.80" height="58.80" fill="#d21010"/>
<rect x="657.66" y="436.70" width="1.00" height="58.80" fill="#980000"/>
<rect x="654.86" y="436.70" width="3.80" height="0.9" fill="#a80008"/>
<rect x="660.85" y="401.90" width="2.70" height="93.60" fill="#868686"/>
<rect x="663.55" y="401.90" width="1.00" height="93.60" fill="#616161"/>
<rect x="660.85" y="401.90" width="3.70" height="0.9" fill="#6e6e6e"/>
<rect x="663.55" y="430.60" width="2.80" height="64.90" fill="#a8a8a8"/>
<rect x="666.35" y="430.60" width="1.00" height="64.90" fill="#777777"/>
<rect x="663.55" y="430.60" width="3.80" height="0.9" fill="#8a8a8a"/>
<rect x="669.53" y="451.20" width="2.70" height="44.30" fill="#0808c0"/>
<rect x="672.23" y="451.20" width="1.00" height="44.30" fill="#00008c"/>
<rect x="669.53" y="451.20" width="3.70" height="0.9" fill="#000098"/>
<rect x="672.23" y="439.10" width="2.80" height="56.40" fill="#d21010"/>
<rect x="675.03" y="439.10" width="1.00" height="56.40" fill="#980000"/>
<rect x="672.23" y="439.10" width="3.80" height="0.9" fill="#a80008"/>
<rect x="678.21" y="328.10" width="2.70" height="167.40" fill="#868686"/>
<rect x="680.91" y="328.10" width="1.00" height="167.40" fill="#616161"/>
<rect x="678.21" y="328.10" width="3.70" height="0.9" fill="#6e6e6e"/>
<rect x="680.91" y="3.00" width="2.80" height="492.50" fill="#a8a8a8"/>
<rect x="683.71" y="3.00" width="1.00" height="492.50" fill="#777777"/>
<rect x="680.91" y="3.00" width="3.80" height="0.9" fill="#8a8a8a"/>
<rect x="686.89" y="438.30" width="2.70" height="57.20" fill="#0808c0"/>
<rect x="689.59" y="438.30" width="1.00" height="57.20" fill="#00008c"/>
<rect x="686.89" y="438.30" width="3.70" height="0.9" fill="#000098"/>
<rect x="689.59" y="435.60" width="2.80" height="59.90" fill="#d21010"/>
<rect x="692.39" y="435.60" width="1.00" height="59.90" fill="#980000"/>
<rect x="689.59" y="435.60" width="3.80" height="0.9" fill="#a80008"/>
<rect x="695.57" y="439.40" width="2.70" height="56.10" fill="#0808c0"/>
<rect x="698.27" y="439.40" width="1.00" height="56.10" fill="#00008c"/>
<rect x="695.57" y="439.40" width="3.70" height="0.9" fill="#000098"/>
<rect x="704.25" y="436.70" width="2.70" height="58.80" fill="#0808c0"/>
<rect x="706.95" y="436.70" width="1.00" height="58.80" fill="#00008c"/>
<rect x="704.25" y="436.70" width="3.70" height="0.9" fill="#000098"/>
<rect x="712.93" y="447.90" width="2.70" height="47.60" fill="#0808c0"/>
<rect x="715.63" y="447.90" width="1.00" height="47.60" fill="#00008c"/>
<rect x="712.93" y="447.90" width="3.70" height="0.9" fill="#000098"/>
<rect x="715.63" y="430.60" width="2.80" height="64.90" fill="#d21010"/>
<rect x="718.43" y="430.60" width="1.00" height="64.90" fill="#980000"/>
<rect x="715.63" y="430.60" width="3.80" height="0.9" fill="#a80008"/>
<rect x="721.61" y="487.00" width="2.70" height="8.50" fill="#868686"/>
<rect x="724.31" y="487.00" width="1.00" height="8.50" fill="#616161"/>
<rect x="721.61" y="487.00" width="3.70" height="0.9" fill="#6e6e6e"/>
<rect x="724.31" y="488.90" width="2.80" height="6.60" fill="#a8a8a8"/>
<rect x="727.11" y="488.90" width="1.00" height="6.60" fill="#777777"/>
<rect x="724.31" y="488.90" width="3.80" height="0.9" fill="#8a8a8a"/>
<rect x="730.29" y="444.30" width="2.70" height="51.20" fill="#0808c0"/>
<rect x="732.99" y="444.30" width="1.00" height="51.20" fill="#00008c"/>
<rect x="730.29" y="444.30" width="3.70" height="0.9" fill="#000098"/>
<rect x="738.97" y="483.50" width="2.70" height="12.00" fill="#868686"/>
<rect x="741.67" y="483.50" width="1.00" height="12.00" fill="#616161"/>
<rect x="738.97" y="483.50" width="3.70" height="0.9" fill="#6e6e6e"/>
<rect x="741.67" y="479.00" width="2.80" height="16.50" fill="#a8a8a8"/>
<rect x="744.47" y="479.00" width="1.00" height="16.50" fill="#777777"/>
<rect x="741.67" y="479.00" width="3.80" height="0.9" fill="#8a8a8a"/>
<rect x="747.66" y="440.20" width="2.70" height="55.30" fill="#0808c0"/>
<rect x="750.36" y="440.20" width="1.00" height="55.30" fill="#00008c"/>
<rect x="747.66" y="440.20" width="3.70" height="0.9" fill="#000098"/>
<rect x="750.36" y="431.30" width="2.80" height="64.20" fill="#d21010"/>
<rect x="753.16" y="431.30" width="1.00" height="64.20" fill="#980000"/>
<rect x="750.36" y="431.30" width="3.80" height="0.9" fill="#a80008"/>
<rect x="756.34" y="439.10" width="2.70" height="56.40" fill="#0808c0"/>
<rect x="759.04" y="439.10" width="1.00" height="56.40" fill="#00008c"/>
<rect x="756.34" y="439.10" width="3.70" height="0.9" fill="#000098"/>
<rect x="759.04" y="429.00" width="2.80" height="66.50" fill="#d21010"/>
<rect x="761.84" y="429.00" width="1.00" height="66.50" fill="#980000"/>
<rect x="759.04" y="429.00" width="3.80" height="0.9" fill="#a80008"/>
<rect x="765.02" y="426.40" width="2.70" height="69.10" fill="#0808c0"/>
<rect x="767.72" y="426.40" width="1.00" height="69.10" fill="#00008c"/>
<rect x="765.02" y="426.40" width="3.70" height="0.9" fill="#000098"/>
<rect x="767.72" y="428.00" width="2.80" height="67.50" fill="#d21010"/>
<rect x="770.52" y="428.00" width="1.00" height="67.50" fill="#980000"/>
<rect x="767.72" y="428.00" width="3.80" height="0.9" fill="#a80008"/>
<rect x="773.70" y="453.70" width="2.70" height="41.80" fill="#0808c0"/>
<rect x="776.40" y="453.70" width="1.00" height="41.80" fill="#00008c"/>
<rect x="773.70" y="453.70" width="3.70" height="0.9" fill="#000098"/>
<g font-size="5.3" fill="#111" stroke="#111" stroke-width="0.18">
<line x1="84.50" y1="500.40" x2="84.50" y2="529.20" stroke="#404040" stroke-width="0.8"/>
<text transform="translate(84.02,529.20) rotate(-90)" text-anchor="end" textLength="9.03" lengthAdjust="spacingAndGlyphs">Iller</text>
<text transform="translate(92.70,500.60) rotate(-90)" text-anchor="end" textLength="16.08" lengthAdjust="spacingAndGlyphs">JDS 1 L</text>
<line x1="101.50" y1="500.40" x2="101.50" y2="529.20" stroke="#404040" stroke-width="0.8"/>
<text transform="translate(101.38,529.20) rotate(-90)" text-anchor="end" textLength="10.82" lengthAdjust="spacingAndGlyphs">Lech</text>
<text transform="translate(110.06,500.60) rotate(-90)" text-anchor="end" textLength="12.33" lengthAdjust="spacingAndGlyphs">JDS 2</text>
<line x1="119.50" y1="500.40" x2="119.50" y2="529.20" stroke="#404040" stroke-width="0.8"/>
<text transform="translate(118.74,529.20) rotate(-90)" text-anchor="end" textLength="26.01" lengthAdjust="spacingAndGlyphs">RMD Canal</text>
<line x1="127.50" y1="500.40" x2="127.50" y2="529.20" stroke="#404040" stroke-width="0.8"/>
<text transform="translate(127.42,529.20) rotate(-90)" text-anchor="end" textLength="12.35" lengthAdjust="spacingAndGlyphs">Naab</text>
<line x1="136.50" y1="500.40" x2="136.50" y2="529.20" stroke="#404040" stroke-width="0.8"/>
<text transform="translate(136.10,529.20) rotate(-90)" text-anchor="end" textLength="14.70" lengthAdjust="spacingAndGlyphs">Regen</text>
<text transform="translate(144.79,500.60) rotate(-90)" text-anchor="end" textLength="12.33" lengthAdjust="spacingAndGlyphs">JDS 3</text>
<text transform="translate(153.47,500.60) rotate(-90)" text-anchor="end" textLength="12.33" lengthAdjust="spacingAndGlyphs">JDS 4</text>
<line x1="162.50" y1="500.40" x2="162.50" y2="529.20" stroke="#404040" stroke-width="0.8"/>
<text transform="translate(162.15,529.20) rotate(-90)" text-anchor="end" textLength="8.53" lengthAdjust="spacingAndGlyphs">Isar</text>
<text transform="translate(170.83,500.60) rotate(-90)" text-anchor="end" textLength="12.33" lengthAdjust="spacingAndGlyphs">JDS 5</text>
<line x1="179.50" y1="500.40" x2="179.50" y2="529.20" stroke="#404040" stroke-width="0.8"/>
<text transform="translate(179.51,529.20) rotate(-90)" text-anchor="end" textLength="7.55" lengthAdjust="spacingAndGlyphs">Inn</text>
<text transform="translate(188.19,500.60) rotate(-90)" text-anchor="end" textLength="12.33" lengthAdjust="spacingAndGlyphs">JDS 6</text>
<line x1="197.50" y1="500.40" x2="197.50" y2="529.20" stroke="#404040" stroke-width="0.8"/>
<text transform="translate(196.87,529.20) rotate(-90)" text-anchor="end" textLength="13.72" lengthAdjust="spacingAndGlyphs">Traun</text>
<text transform="translate(205.55,500.60) rotate(-90)" text-anchor="end" textLength="12.33" lengthAdjust="spacingAndGlyphs">JDS 7</text>
<line x1="214.50" y1="500.40" x2="214.50" y2="529.20" stroke="#404040" stroke-width="0.8"/>
<text transform="translate(214.23,529.20) rotate(-90)" text-anchor="end" textLength="11.19" lengthAdjust="spacingAndGlyphs">Enns</text>
<text transform="translate(222.91,500.60) rotate(-90)" text-anchor="end" textLength="12.33" lengthAdjust="spacingAndGlyphs">JDS 8</text>
<text transform="translate(231.60,500.60) rotate(-90)" text-anchor="end" textLength="12.33" lengthAdjust="spacingAndGlyphs">JDS 9</text>
<text transform="translate(240.28,500.60) rotate(-90)" text-anchor="end" textLength="15.27" lengthAdjust="spacingAndGlyphs">JDS 10</text>
<text transform="translate(248.96,500.60) rotate(-90)" text-anchor="end" textLength="15.27" lengthAdjust="spacingAndGlyphs">JDS 11</text>
<text transform="translate(257.64,500.60) rotate(-90)" text-anchor="end" textLength="15.27" lengthAdjust="spacingAndGlyphs">JDS 12</text>
<line x1="257.50" y1="516.07" x2="257.50" y2="524.47" stroke="#404040" stroke-width="0.8"/>
<text transform="translate(257.64,524.47) rotate(-90)" text-anchor="end" textLength="18.22" lengthAdjust="spacingAndGlyphs">Morava</text>
<text transform="translate(266.32,500.60) rotate(-90)" text-anchor="end" textLength="15.27" lengthAdjust="spacingAndGlyphs">JDS 13</text>
<text transform="translate(275.00,500.60) rotate(-90)" text-anchor="end" textLength="15.27" lengthAdjust="spacingAndGlyphs">JDS 14</text>
<text transform="translate(283.68,500.60) rotate(-90)" text-anchor="end" textLength="15.27" lengthAdjust="spacingAndGlyphs">JDS 15</text>
<text transform="translate(292.36,500.60) rotate(-90)" text-anchor="end" textLength="15.27" lengthAdjust="spacingAndGlyphs">JDS 16</text>
<text transform="translate(301.04,500.60) rotate(-90)" text-anchor="end" textLength="15.27" lengthAdjust="spacingAndGlyphs">JDS 17</text>
<text transform="translate(309.73,500.60) rotate(-90)" text-anchor="end" textLength="15.27" lengthAdjust="spacingAndGlyphs">JDS 18</text>
<line x1="310.50" y1="516.07" x2="310.50" y2="524.47" stroke="#404040" stroke-width="0.8"/>
<text transform="translate(309.73,524.47) rotate(-90)" text-anchor="end" textLength="9.11" lengthAdjust="spacingAndGlyphs">Vah</text>
<text transform="translate(318.41,500.60) rotate(-90)" text-anchor="end" textLength="15.27" lengthAdjust="spacingAndGlyphs">JDS 19</text>
<text transform="translate(327.09,500.60) rotate(-90)" text-anchor="end" textLength="15.27" lengthAdjust="spacingAndGlyphs">JDS 20</text>
<text transform="translate(335.77,500.60) rotate(-90)" text-anchor="end" textLength="15.27" lengthAdjust="spacingAndGlyphs">JDS 21</text>
<text transform="translate(344.45,500.60) rotate(-90)" text-anchor="end" textLength="15.27" lengthAdjust="spacingAndGlyphs">JDS 22</text>
<text transform="translate(353.13,500.60) rotate(-90)" text-anchor="end" textLength="15.27" lengthAdjust="spacingAndGlyphs">JDS 23</text>
<text transform="translate(361.81,500.60) rotate(-90)" text-anchor="end" textLength="15.27" lengthAdjust="spacingAndGlyphs">JDS 24</text>
<text transform="translate(370.49,500.60) rotate(-90)" text-anchor="end" textLength="15.27" lengthAdjust="spacingAndGlyphs">JDS 25</text>
<line x1="379.50" y1="500.40" x2="379.50" y2="529.20" stroke="#404040" stroke-width="0.8"/>
<text transform="translate(379.17,529.20) rotate(-90)" text-anchor="end" textLength="21.38" lengthAdjust="spacingAndGlyphs">Sio Canal</text>
<text transform="translate(387.85,500.60) rotate(-90)" text-anchor="end" textLength="15.27" lengthAdjust="spacingAndGlyphs">JDS 26</text>
<text transform="translate(396.53,500.60) rotate(-90)" text-anchor="end" textLength="15.27" lengthAdjust="spacingAndGlyphs">JDS 27</text>
<text transform="translate(405.22,500.60) rotate(-90)" text-anchor="end" textLength="15.27" lengthAdjust="spacingAndGlyphs">JDS 28</text>
<text transform="translate(413.90,500.60) rotate(-90)" text-anchor="end" textLength="15.27" lengthAdjust="spacingAndGlyphs">JDS 29</text>
<line x1="414.50" y1="516.07" x2="414.50" y2="524.47" stroke="#404040" stroke-width="0.8"/>
<text transform="translate(413.90,524.47) rotate(-90)" text-anchor="end" textLength="13.77" lengthAdjust="spacingAndGlyphs">Drava</text>
<text transform="translate(422.58,500.60) rotate(-90)" text-anchor="end" textLength="15.27" lengthAdjust="spacingAndGlyphs">JDS 30</text>
<text transform="translate(431.26,500.60) rotate(-90)" text-anchor="end" textLength="15.27" lengthAdjust="spacingAndGlyphs">JDS 31</text>
<text transform="translate(439.94,500.60) rotate(-90)" text-anchor="end" textLength="15.27" lengthAdjust="spacingAndGlyphs">JDS 32</text>
<text transform="translate(448.62,500.60) rotate(-90)" text-anchor="end" textLength="15.27" lengthAdjust="spacingAndGlyphs">JDS 33</text>
<text transform="translate(457.30,500.60) rotate(-90)" text-anchor="end" textLength="15.27" lengthAdjust="spacingAndGlyphs">JDS 34</text>
<text transform="translate(465.98,500.60) rotate(-90)" text-anchor="end" textLength="15.27" lengthAdjust="spacingAndGlyphs">JDS 35</text>
<line x1="466.50" y1="516.07" x2="466.50" y2="524.47" stroke="#404040" stroke-width="0.8"/>
<text transform="translate(465.98,524.47) rotate(-90)" text-anchor="end" textLength="9.20" lengthAdjust="spacingAndGlyphs">Tisa</text>
<text transform="translate(474.66,500.60) rotate(-90)" text-anchor="end" textLength="15.27" lengthAdjust="spacingAndGlyphs">JDS 36</text>
<text transform="translate(483.34,500.60) rotate(-90)" text-anchor="end" textLength="15.27" lengthAdjust="spacingAndGlyphs">JDS 37</text>
<line x1="483.50" y1="516.07" x2="483.50" y2="524.47" stroke="#404040" stroke-width="0.8"/>
<text transform="translate(483.34,524.47) rotate(-90)" text-anchor="end" textLength="10.84" lengthAdjust="spacingAndGlyphs">Sava</text>
<text transform="translate(492.03,500.60) rotate(-90)" text-anchor="end" textLength="15.27" lengthAdjust="spacingAndGlyphs">JDS 38</text>
<text transform="translate(500.71,500.60) rotate(-90)" text-anchor="end" textLength="15.27" lengthAdjust="spacingAndGlyphs">JDS 39</text>
<text transform="translate(509.39,500.60) rotate(-90)" text-anchor="end" textLength="15.27" lengthAdjust="spacingAndGlyphs">JDS 40</text>
<text transform="translate(518.07,500.60) rotate(-90)" text-anchor="end" textLength="15.27" lengthAdjust="spacingAndGlyphs">JDS 41</text>
<line x1="518.50" y1="516.07" x2="518.50" y2="518.37" stroke="#404040" stroke-width="0.8"/>
<text transform="translate(518.07,518.37) rotate(-90)" text-anchor="end" textLength="22.97" lengthAdjust="spacingAndGlyphs">V.Morava</text>
<text transform="translate(526.75,500.60) rotate(-90)" text-anchor="end" textLength="15.27" lengthAdjust="spacingAndGlyphs">JDS 42</text>
<text transform="translate(535.43,500.60) rotate(-90)" text-anchor="end" textLength="15.27" lengthAdjust="spacingAndGlyphs">JDS 43</text>
<text transform="translate(544.11,500.60) rotate(-90)" text-anchor="end" textLength="15.27" lengthAdjust="spacingAndGlyphs">JDS 44</text>
<text transform="translate(552.79,500.60) rotate(-90)" text-anchor="end" textLength="15.27" lengthAdjust="spacingAndGlyphs">JDS 45</text>
<text transform="translate(561.47,500.60) rotate(-90)" text-anchor="end" textLength="15.27" lengthAdjust="spacingAndGlyphs">JDS 46</text>
<text transform="translate(570.15,500.60) rotate(-90)" text-anchor="end" textLength="15.27" lengthAdjust="spacingAndGlyphs">JDS 47</text>
<text transform="translate(578.84,500.60) rotate(-90)" text-anchor="end" textLength="15.27" lengthAdjust="spacingAndGlyphs">JDS 48</text>
<line x1="579.50" y1="516.07" x2="579.50" y2="524.47" stroke="#404040" stroke-width="0.8"/>
<text transform="translate(578.84,524.47) rotate(-90)" text-anchor="end" textLength="14.48" lengthAdjust="spacingAndGlyphs">Timok</text>
<text transform="translate(587.52,500.60) rotate(-90)" text-anchor="end" textLength="15.27" lengthAdjust="spacingAndGlyphs">JDS 49</text>
<text transform="translate(596.20,500.60) rotate(-90)" text-anchor="end" textLength="15.27" lengthAdjust="spacingAndGlyphs">JDS 50</text>
<text transform="translate(604.88,500.60) rotate(-90)" text-anchor="end" textLength="15.27" lengthAdjust="spacingAndGlyphs">JDS 51</text>
<line x1="605.50" y1="516.07" x2="605.50" y2="524.47" stroke="#404040" stroke-width="0.8"/>
<text transform="translate(604.88,524.47) rotate(-90)" text-anchor="end" textLength="11.17" lengthAdjust="spacingAndGlyphs">Iskar</text>
<text transform="translate(613.56,500.60) rotate(-90)" text-anchor="end" textLength="18.05" lengthAdjust="spacingAndGlyphs">JDS 51a</text>
<text transform="translate(622.24,500.60) rotate(-90)" text-anchor="end" textLength="18.32" lengthAdjust="spacingAndGlyphs">JDS 51b</text>
<line x1="622.50" y1="519.12" x2="622.50" y2="527.52" stroke="#404040" stroke-width="0.8"/>
<text transform="translate(622.24,527.52) rotate(-90)" text-anchor="end" textLength="7.11" lengthAdjust="spacingAndGlyphs">Olt</text>
<text transform="translate(630.92,500.60) rotate(-90)" text-anchor="end" textLength="15.27" lengthAdjust="spacingAndGlyphs">JDS 52</text>
<text transform="translate(639.60,500.60) rotate(-90)" text-anchor="end" textLength="15.27" lengthAdjust="spacingAndGlyphs">JDS 53</text>
<text transform="translate(648.28,500.60) rotate(-90)" text-anchor="end" textLength="15.27" lengthAdjust="spacingAndGlyphs">JDS 54</text>
<line x1="648.50" y1="516.07" x2="648.50" y2="524.47" stroke="#404040" stroke-width="0.8"/>
<text transform="translate(648.28,524.47) rotate(-90)" text-anchor="end" textLength="14.42" lengthAdjust="spacingAndGlyphs">Jantra</text>
<text transform="translate(656.96,500.60) rotate(-90)" text-anchor="end" textLength="15.27" lengthAdjust="spacingAndGlyphs">JDS 55</text>
<text transform="translate(665.65,500.60) rotate(-90)" text-anchor="end" textLength="15.27" lengthAdjust="spacingAndGlyphs">JDS 56</text>
<line x1="665.50" y1="516.07" x2="665.50" y2="524.47" stroke="#404040" stroke-width="0.8"/>
<text transform="translate(665.65,524.47) rotate(-90)" text-anchor="end" textLength="16.05" lengthAdjust="spacingAndGlyphs">R. Lom</text>
<text transform="translate(674.33,500.60) rotate(-90)" text-anchor="end" textLength="15.27" lengthAdjust="spacingAndGlyphs">JDS 57</text>
<text transform="translate(683.01,500.60) rotate(-90)" text-anchor="end" textLength="15.27" lengthAdjust="spacingAndGlyphs">JDS 58</text>
<line x1="683.50" y1="516.07" x2="683.50" y2="524.47" stroke="#404040" stroke-width="0.8"/>
<text transform="translate(683.01,524.47) rotate(-90)" text-anchor="end" textLength="13.27" lengthAdjust="spacingAndGlyphs">Arges</text>
<text transform="translate(691.69,500.60) rotate(-90)" text-anchor="end" textLength="15.27" lengthAdjust="spacingAndGlyphs">JDS 59</text>
<text transform="translate(700.37,500.60) rotate(-90)" text-anchor="end" textLength="15.27" lengthAdjust="spacingAndGlyphs">JDS 60</text>
<text transform="translate(709.05,500.60) rotate(-90)" text-anchor="end" textLength="15.27" lengthAdjust="spacingAndGlyphs">JDS 61</text>
<text transform="translate(717.73,500.60) rotate(-90)" text-anchor="end" textLength="15.27" lengthAdjust="spacingAndGlyphs">JDS 62</text>
<text transform="translate(726.41,500.60) rotate(-90)" text-anchor="end" textLength="15.27" lengthAdjust="spacingAndGlyphs">JDS 63</text>
<line x1="726.50" y1="516.07" x2="726.50" y2="524.47" stroke="#404040" stroke-width="0.8"/>
<text transform="translate(726.41,524.47) rotate(-90)" text-anchor="end" textLength="10.85" lengthAdjust="spacingAndGlyphs">Siret</text>
<text transform="translate(735.09,500.60) rotate(-90)" text-anchor="end" textLength="18.05" lengthAdjust="spacingAndGlyphs">JDS 63a</text>
<text transform="translate(743.77,500.60) rotate(-90)" text-anchor="end" textLength="15.27" lengthAdjust="spacingAndGlyphs">JDS 64</text>
<line x1="744.50" y1="516.07" x2="744.50" y2="524.47" stroke="#404040" stroke-width="0.8"/>
<text transform="translate(743.77,524.47) rotate(-90)" text-anchor="end" textLength="10.01" lengthAdjust="spacingAndGlyphs">Prut</text>
<text transform="translate(752.46,500.60) rotate(-90)" text-anchor="end" textLength="15.27" lengthAdjust="spacingAndGlyphs">JDS 65</text>
<text transform="translate(761.14,500.60) rotate(-90)" text-anchor="end" textLength="15.27" lengthAdjust="spacingAndGlyphs">JDS 66</text>
<text transform="translate(769.82,500.60) rotate(-90)" text-anchor="end" textLength="15.27" lengthAdjust="spacingAndGlyphs">JDS 67</text>
<text transform="translate(778.50,500.60) rotate(-90)" text-anchor="end" textLength="15.27" lengthAdjust="spacingAndGlyphs">JDS 68</text>
</g>
<g font-size="14" fill="#000" stroke="#000" stroke-width="0.3" text-anchor="end">
<text x="63.0" y="502.20" textLength="7.4" lengthAdjust="spacingAndGlyphs">0</text>
<text x="63.0" y="452.95" textLength="14.8" lengthAdjust="spacingAndGlyphs">20</text>
<text x="63.0" y="403.70" textLength="14.8" lengthAdjust="spacingAndGlyphs">40</text>
<text x="63.0" y="354.45" textLength="14.8" lengthAdjust="spacingAndGlyphs">60</text>
<text x="63.0" y="305.20" textLength="14.8" lengthAdjust="spacingAndGlyphs">80</text>
<text x="63.0" y="255.95" textLength="22.2" lengthAdjust="spacingAndGlyphs">100</text>
<text x="63.0" y="206.70" textLength="22.2" lengthAdjust="spacingAndGlyphs">120</text>
<text x="63.0" y="157.45" textLength="22.2" lengthAdjust="spacingAndGlyphs">140</text>
<text x="63.0" y="108.20" textLength="22.2" lengthAdjust="spacingAndGlyphs">160</text>
<text x="63.0" y="58.95" textLength="22.2" lengthAdjust="spacingAndGlyphs">180</text>
<text x="63.0" y="9.70" textLength="22.2" lengthAdjust="spacingAndGlyphs">200</text>
</g>
<text transform="translate(14.4,249.8) rotate(-90)" text-anchor="middle" font-size="16.5" font-weight="bold" fill="#000" textLength="35" lengthAdjust="spacingAndGlyphs">ng/L</text>
<line x1="364.6" y1="32.6" x2="391.4" y2="14.7" stroke="#000" stroke-width="1.3"/>
<line x1="365.9" y1="40.9" x2="392.7" y2="23.0" stroke="#000" stroke-width="1.3"/>
<line x1="667.1" y1="28.3" x2="693.8" y2="10.7" stroke="#000" stroke-width="1.3"/>
<line x1="668.6" y1="36.9" x2="695.3" y2="19.2" stroke="#000" stroke-width="1.3"/>
<text x="395.9" y="24.5" font-size="13.3" fill="#000" stroke="#000" stroke-width="0.22" textLength="54.2" lengthAdjust="spacingAndGlyphs">Sio Canal</text>
<text x="395.9" y="42.8" font-size="13.3" fill="#000" stroke="#000" stroke-width="0.22" textLength="51.7" lengthAdjust="spacingAndGlyphs">401 ng/L</text>
<text x="702.4" y="24.2" font-size="13.3" fill="#000" stroke="#000" stroke-width="0.22" textLength="66.8" lengthAdjust="spacingAndGlyphs">Arges River</text>
<text x="702.4" y="42.4" font-size="13.3" fill="#000" stroke="#000" stroke-width="0.22" textLength="52.2" lengthAdjust="spacingAndGlyphs">945 ng/L</text>
<text x="267.1" y="126.0" font-size="13.3" fill="#000" stroke="#000" stroke-width="0.22" textLength="80.6" lengthAdjust="spacingAndGlyphs">Morava River</text>
<text x="298.6" y="216.7" font-size="13.3" fill="#000" stroke="#000" stroke-width="0.22" textLength="41.2" lengthAdjust="spacingAndGlyphs">Moson</text>
<text x="298.6" y="234.3" font-size="13.3" fill="#000" stroke="#000" stroke-width="0.22" textLength="75.3" lengthAdjust="spacingAndGlyphs">Danube Arm</text>
<rect x="478.4" y="130.6" width="8.5" height="8.6" fill="#0000fa" stroke="#0000b0" stroke-width="0.6"/>
<rect x="478.4" y="161.1" width="8.5" height="8.6" fill="#fa0000" stroke="#c00000" stroke-width="0.6"/>
<text x="491.3" y="139.8" font-size="14.9" fill="#000" stroke="#000" stroke-width="0.22" textLength="152" lengthAdjust="spacingAndGlyphs">Carbamazepine (2013)</text>
<text x="491.3" y="169.9" font-size="14.9" fill="#000" stroke="#000" stroke-width="0.22" textLength="152" lengthAdjust="spacingAndGlyphs">Carbamazepine (2007)</text>
<text x="488.2" y="209.9" font-size="13.2" fill="#7f7f7f" stroke="#7f7f7f" stroke-width="0.22" textLength="142" lengthAdjust="spacingAndGlyphs">Tributary rivers in grey</text>
<text x="488.2" y="228.1" font-size="13.2" fill="#7f7f7f" stroke="#7f7f7f" stroke-width="0.22" textLength="99.2" lengthAdjust="spacingAndGlyphs">Dark grey: 2013</text>
<text x="488.2" y="247.3" font-size="13.2" fill="#bfbfbf" stroke="#bfbfbf" stroke-width="0.22" textLength="100.2" lengthAdjust="spacingAndGlyphs">Light grey: 2007</text>
</g>
</svg>
</body></html>
